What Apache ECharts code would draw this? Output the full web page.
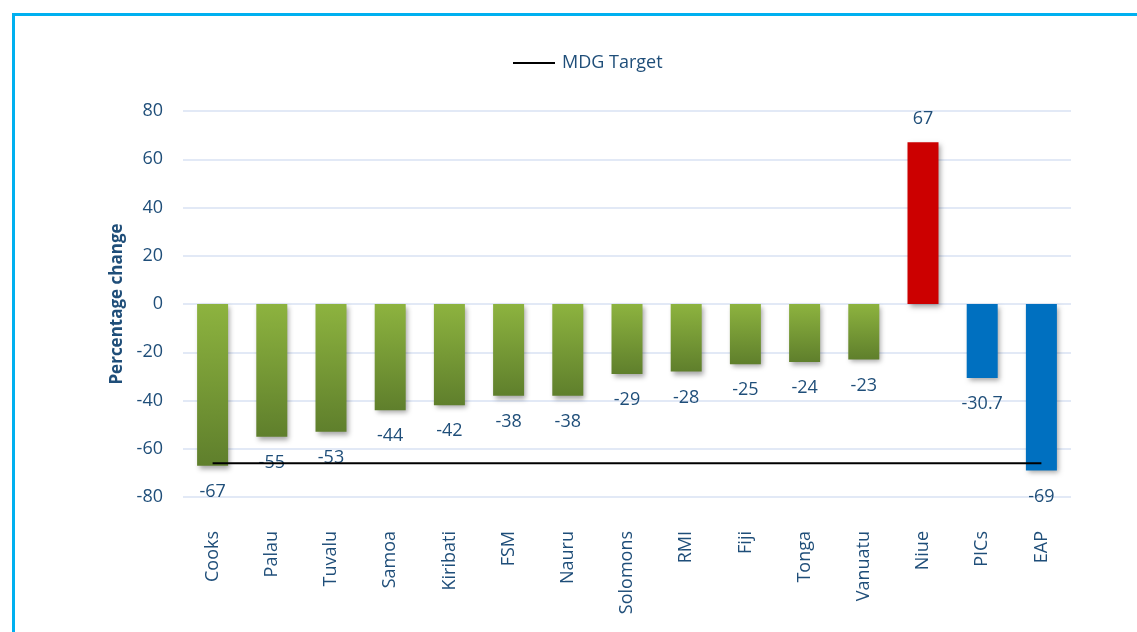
<!DOCTYPE html>
<html>
<head>
<meta charset="utf-8">
<script src="https://cdn.jsdelivr.net/npm/echarts@6/dist/echarts.min.js"></script>
<style>
html,body{margin:0;padding:0;background:#fff;}
#c{width:1137px;height:632px;}
</style>
</head>
<body>
<div id="c"></div>
<script>
const categories = ['Cooks','Palau','Tuvalu','Samoa','Kiribati','FSM','Nauru','Solomons','RMI','Fiji','Tonga','Vanuatu','Niue','PICs','EAP'];
const values = [-67,-55,-53,-44,-42,-38,-38,-29,-28,-25,-24,-23,67,-30.7,-69];
const barGroups = ['green','green','green','green','green','green','green','green','green','green','green','green','red','blue','blue'];
const mdgTarget = [-66,-66,-66,-66,-66,-66,-66,-66,-66,-66,-66,-66,-66,-66,-66];
const yTicks = [-80,-60,-40,-20,0,20,40,60,80];

const txt = '#1F4E79';
const fills = {
  green: new echarts.graphic.LinearGradient(0,0,0,1,[{offset:0,color:'#8DB33F'},{offset:1,color:'#5F7F2C'}]),
  red: '#CC0000',
  blue: '#0070C0'
};

const barData = values.map((v,i)=>({
  value: v,
  itemStyle: {color: fills[barGroups[i]]},
  label: {position: v < 0 ? 'bottom' : 'top', distance: v < 0 ? 17 : 14}
}));

const chart = echarts.init(document.getElementById('c'));
chart.setOption({
  animation: false,
  textStyle: {fontFamily: "'Open Sans', 'Noto Sans', sans-serif"},
  graphic: [{
    type: 'rect', left: 11, top: 12, silent: true,
    shape: {width: 1200, height: 700},
    style: {fill: 'none', stroke: '#00B0F0', lineWidth: 3}
  }],
  legend: {
    left: 508, top: 49,
    itemWidth: 42, itemHeight: 2, itemGap: 8,
    textStyle: {color: txt, fontSize: 18, padding: [0,0,0,2]},
    data: [{name: 'MDG Target', icon: 'rect', itemStyle: {color: '#000'}}]
  },
  grid: {left: 183, right: 66, top: 111, bottom: 135},
  xAxis: {
    type: 'category', data: categories, position: 'bottom',
    axisLine: {show: false}, axisTick: {show: false},
    axisLabel: {rotate: 90, margin: 34, color: txt, fontSize: 18, interval: 0}
  },
  yAxis: {
    type: 'value', min: yTicks[0], max: yTicks[yTicks.length-1], interval: 20,
    name: 'Percentage change', nameLocation: 'middle', nameGap: 56,
    nameTextStyle: {color: txt, fontSize: 17, fontWeight: 'bold'},
    axisLine: {show: false}, axisTick: {show: false},
    axisLabel: {color: txt, fontSize: 18, margin: 20},
    splitLine: {lineStyle: {color: '#D9E2F3', width: 1.5}}
  },
  series: [{
    type: 'bar', name: 'Change', data: barData, barWidth: 31,
    itemStyle: {shadowBlur: 5, shadowOffsetX: 2, shadowOffsetY: 3, shadowColor: 'rgba(0,0,0,0.35)'},
    label: {show: true, color: txt, fontSize: 18}
  },{
    type: 'line', name: 'MDG Target', data: mdgTarget, symbol: 'none',
    itemStyle: {color: '#000'},
    lineStyle: {color: '#000', width: 2}, z: 5
  }]
});
</script>
</body>
</html>
